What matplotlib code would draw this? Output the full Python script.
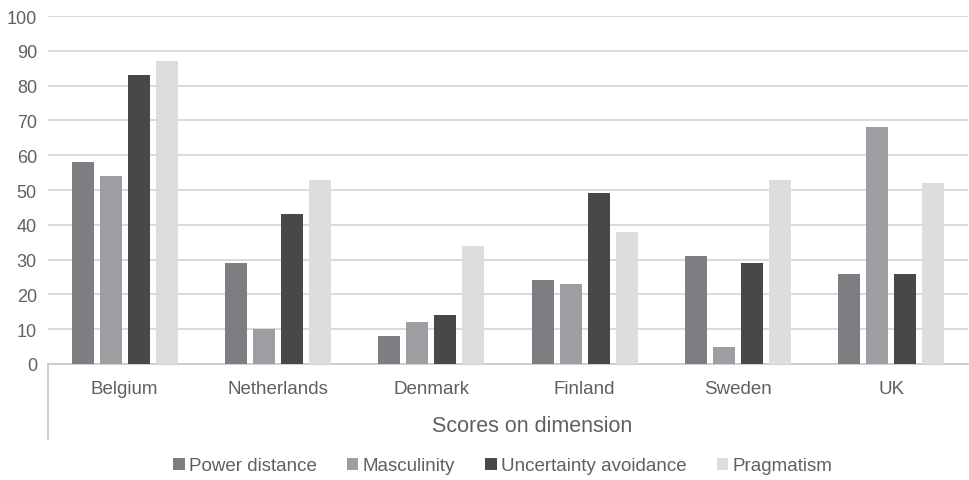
import numpy as np
import matplotlib
matplotlib.use('Agg')
import matplotlib.pyplot as plt
from matplotlib.lines import Line2D

plt.rcParams['font.family'] = ['Liberation Sans', 'DejaVu Sans']

# scores per country
countries = ['Belgium', 'Netherlands', 'Denmark', 'Finland', 'Sweden', 'UK']
series = ['Power distance', 'Masculinity', 'Uncertainty avoidance', 'Pragmatism']
power_distance = [58, 29, 8, 24, 31, 26]
masculinity = [54, 10, 12, 23, 5, 68]
uncertainty_avoidance = [83, 43, 14, 49, 29, 26]
pragmatism = [87, 53, 34, 38, 53, 52]
colors = ['#7d7e82', '#9d9ea1', '#47484a', '#dcdddf']

values = [power_distance, masculinity, uncertainty_avoidance, pragmatism]
text_color = '#606060'

fig = plt.figure(figsize=(9.69, 4.81), dpi=100)
ax = fig.add_axes([48/969, 1 - 365/481, 920/969, 348/481])

x = np.arange(len(countries))
step = 0.183
width = 0.144
for j, (name, vals, c) in enumerate(zip(series, values, colors)):
    ax.bar(x + (j - 1.5)*step, vals, width, color=c, label=name, zorder=3)

ax.set_xlim(-0.5, len(countries) - 0.5)
ax.set_ylim(0, 100)
ax.set_yticks(range(0, 101, 10))
ax.yaxis.grid(True, color='#d9d9d9', linewidth=1.4, zorder=0)
ax.tick_params(axis='y', length=0, pad=8, labelsize=13, labelcolor=text_color)
ax.set_xticks([])
for s in ['top', 'right', 'left']:
    ax.spines[s].set_visible(False)
ax.spines['bottom'].set_color('#c8c8c8')
ax.spines['bottom'].set_linewidth(1.2)

# category labels and the box line beneath the axis
label_y = -(390 - 365)/348
for i, name in enumerate(countries):
    ax.text(i, label_y, name, transform=ax.get_xaxis_transform(), ha='center', va='center',
            fontsize=13.5, color=text_color)
fig.add_artist(Line2D([48/969, 48/969], [1 - 365/481, 1 - 440/481],
                      color='#c8c8c8', linewidth=1.2))
fig.text(532/969, 1 - 427/481, 'Scores on dimension', ha='center', va='center',
         fontsize=15.5, color=text_color)

fig.legend(loc='center', bbox_to_anchor=(503/969, 1 - 467/481), ncol=4, frameon=False,
           fontsize=13.5, labelcolor=text_color, handlelength=0.6, handleheight=0.6,
           handletextpad=0.25, columnspacing=1.6)

fig.savefig('out.png', dpi=100)
